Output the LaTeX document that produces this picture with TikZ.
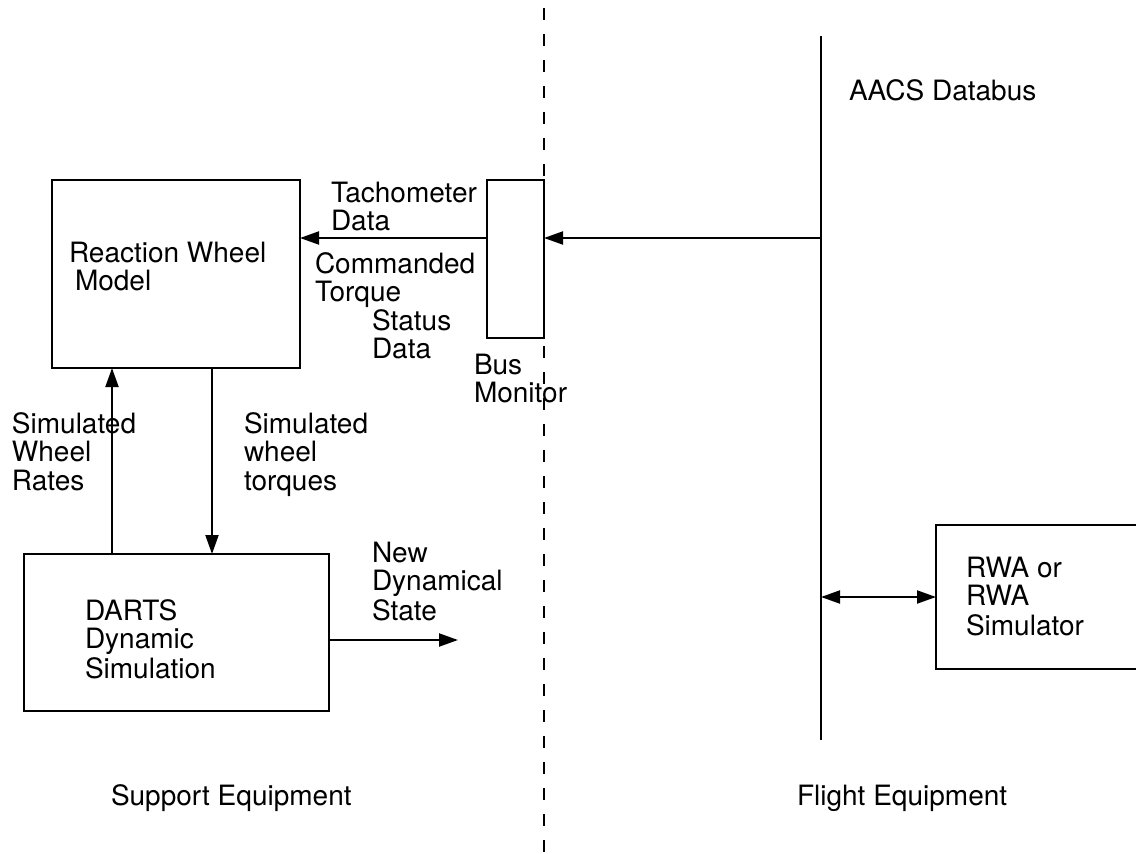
\documentclass[tikz,border=0pt]{standalone}
\usepackage{fontspec}
\setmainfont{TeX Gyre Heros}
\usetikzlibrary{arrows.meta}
\begin{document}
\begin{tikzpicture}[x=1pt,y=-1pt,
  box/.style={draw, line width=2pt, rectangle, inner sep=0pt, outer sep=0pt},
  txt/.style={anchor=base west, inner sep=0pt, outer sep=0pt, font=\fontsize{28}{28.5}\selectfont},
  wire/.style={line width=2pt},
  arr/.style={line width=2pt, -{Triangle[length=19pt,width=13pt]}},
  darr/.style={line width=2pt, {Triangle[length=19pt,width=13pt]}-{Triangle[length=19pt,width=13pt]}},
  divider/.style={line width=2pt, dash pattern=on 12pt off 14pt}]
\useasboundingbox (0,0) rectangle (1136,854);
% divider and databus
\coordinate (divTop) at (544,8);
\coordinate (divBot) at (544,854);
\draw[divider] (divTop) -- (divBot);
\coordinate (busTop) at (821,36);
\coordinate (busBot) at (821,740);
\draw[wire] (busTop) -- (busBot);
% boxes
\node[box, minimum width=248pt, minimum height=188pt] (rwm) at (176,274) {};
\node[box, minimum width=57pt, minimum height=158pt] (bm) at (515.5,259) {};
\node[box, minimum width=305pt, minimum height=157pt] (darts) at (176.5,632.5) {};
\node[box, minimum width=224pt, minimum height=144pt] (rwa) at (1048,597) {};
% texts
\node[txt] (tdb) at (849,100) {AACS Databus};
\node[txt] (trwm) at (69,262) {\begin{tabular}[t]{@{}l@{}}Reaction Wheel\\\hspace{6pt}Model\end{tabular}};
\node[txt] (ttach) at (331,202) {\begin{tabular}[t]{@{}l@{}}Tachometer\\Data\end{tabular}};
\node[txt] (tcmd) at (315,273) {\begin{tabular}[t]{@{}l@{}}Commanded\\Torque\end{tabular}};
\node[txt] (tstat) at (372,330) {\begin{tabular}[t]{@{}l@{}}Status\\Data\end{tabular}};
\node[txt] (tbm) at (474,374) {\begin{tabular}[t]{@{}l@{}}Bus\\Monitor\end{tabular}};
\node[txt] (tswr) at (12,433) {\begin{tabular}[t]{@{}l@{}}Simulated\\Wheel\\Rates\end{tabular}};
\node[txt] (tswt) at (244,433) {\begin{tabular}[t]{@{}l@{}}Simulated\\wheel\\torques\end{tabular}};
\node[txt] (tnds) at (372,562) {\begin{tabular}[t]{@{}l@{}}New\\Dynamical\\State\end{tabular}};
\node[txt] (tdarts) at (85,620) {\begin{tabular}[t]{@{}l@{}}DARTS\\Dynamic\\Simulation\end{tabular}};
\node[txt] (trwa) at (966,577) {\begin{tabular}[t]{@{}l@{}}RWA or\\RWA\\Simulator\end{tabular}};
\node[txt] (tse) at (111,805) {Support Equipment};
\node[txt] (tfe) at (797,805) {Flight Equipment};
% connectors
\coordinate (tap) at (821,238);
\draw[arr] (tap) -- (tap -| bm.east);
\draw[arr] (tap -| bm.west) -- (tap -| rwm.east);
\coordinate (upx) at (112,0);
\coordinate (dnx) at (212,0);
\draw[arr] (darts.north -| upx) -- (rwm.south -| upx);
\draw[arr] (rwm.south -| dnx) -- (darts.north -| dnx);
\coordinate (nds) at (458,640);
\draw[arr] (nds -| darts.east) -- (nds);
\draw[darr] (rwa.west -| busTop) -- (rwa.west);
\end{tikzpicture}
\end{document}
